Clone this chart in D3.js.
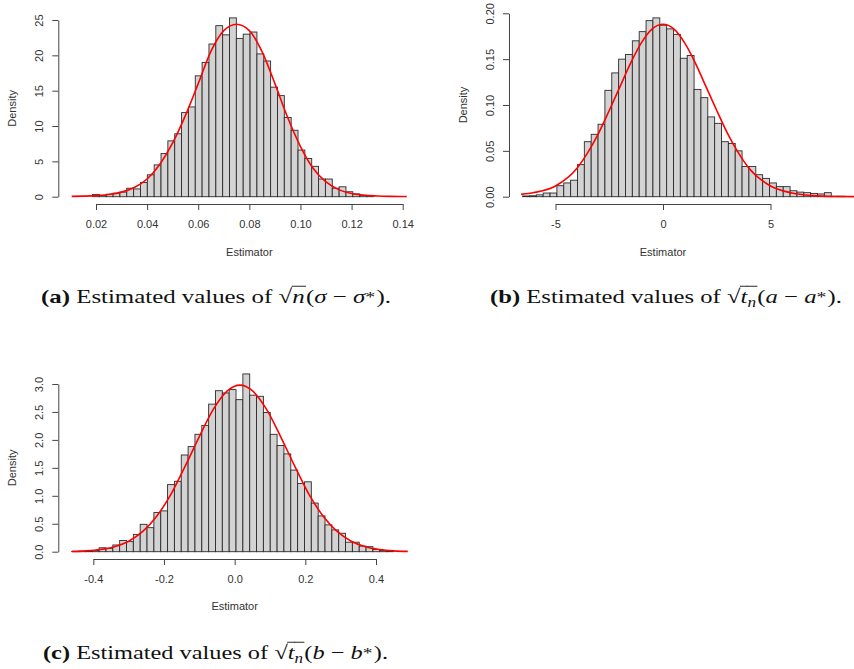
<!DOCTYPE html>
<html lang="en">
<head>
<meta charset="UTF-8">
<title>estimator histograms</title>
<style>
  body { margin: 0; background: #fff; }
  svg text { font-family: "Liberation Sans", Arial, sans-serif; }
</style>
</head>
<body>
<script src="https://d3js.org/d3.v7.min.js"></script>
<script>
// ---- data ----
// (a) sqrt(n)(sigma - sigma*)
const xTicksA = [0.02, 0.04, 0.06, 0.08, 0.10, 0.12, 0.14];
const yTicksA = [0, 5, 10, 15, 20, 25];
const binStartA = 0.01864, binWidthA = 0.00268;
const densA = [0.3, 0.2, 0.35, 0.5, 0.65, 1.2, 1.1,
  2.0, 3.1, 4.5, 6.1, 7.9, 8.9, 11.9, 12.7, 17.1, 19.0, 21.6, 24.2, 22.9, 25.3,
  22.4, 23.0, 23.3, 20.2, 19.2, 15.5, 14.3, 11.2, 9.4, 6.6, 5.4,
  4.3, 2.5, 2.5, 1.2, 1.4, 0.7, 0.4, 0.2, 0.15];
const curveXA = [0.0105, 0.015, 0.02, 0.025, 0.03, 0.035, 0.04, 0.045, 0.05, 0.055, 0.06, 0.065, 0.07, 0.075,
  0.08, 0.085, 0.09, 0.095, 0.10, 0.105, 0.11, 0.115, 0.12, 0.125, 0.13, 0.135, 0.1416];
const curveYA = [0.05, 0.08, 0.15, 0.32, 0.65, 1.3, 2.5, 4.6, 7.6, 11.5, 16.0, 20.6, 23.5, 24.4,
  23.5, 20.5, 16.0, 11.2, 7.1, 4.0, 2.1, 1.0, 0.45, 0.2, 0.1, 0.05, 0.03];

// (b) sqrt(t_n)(a - a*)
const xTicksB = [-5, 0, 5];
const yTicksB = [0, 0.05, 0.10, 0.15, 0.20];
const binStartB = -6.53, binWidthB = 0.319;
const densB = [0.0008, 0.001, 0.002, 0.004, 0.004, 0.012, 0.015, 0.018, 0.035, 0.060, 0.068, 0.079,
  0.116, 0.135, 0.150, 0.155, 0.170, 0.180, 0.192, 0.195, 0.187, 0.183, 0.177, 0.151, 0.154,
  0.117, 0.108, 0.087, 0.080, 0.060, 0.058, 0.050, 0.033, 0.033, 0.024, 0.020, 0.015, 0.011,
  0.011, 0.0065, 0.005, 0.0044, 0.0036, 0.003, 0.0044, 0.0005, 0.0005];
const curveXB = [-6.6, -6, -5, -4, -3.5, -3, -2.5, -2, -1.5, -1, -0.5, 0, 0.5, 1, 1.5, 2, 2.5, 3, 3.5, 4, 5, 6, 7, 8, 8.9];
const curveYB = [0.0025, 0.0045, 0.0117, 0.031, 0.048, 0.069, 0.094, 0.120, 0.146, 0.168, 0.183, 0.188,
  0.183, 0.168, 0.146, 0.120, 0.094, 0.069, 0.048, 0.031, 0.0117, 0.004, 0.0012, 0.0003, 0.0001];

// (c) sqrt(t_n)(b - b*)
const xTicksC = [-0.4, -0.2, 0.0, 0.2, 0.4];
const yTicksC = [0, 0.5, 1.0, 1.5, 2.0, 2.5, 3.0];
const binStartC = -0.461, binWidthC = 0.01937;
const densC = [0.005, 0.01, 0.015, 0.02, 0.07, 0.06, 0.12, 0.20, 0.18, 0.31, 0.49, 0.43, 0.70, 0.73,
  1.20, 1.26, 1.73, 1.88, 2.10, 2.26, 2.64, 2.88, 2.84, 2.90, 2.72, 3.18, 2.80, 2.78, 2.49, 2.10,
  1.90, 1.75, 1.46, 1.22, 1.25, 0.87, 0.64, 0.48, 0.39, 0.33, 0.17, 0.17, 0.10, 0.09, 0.04, 0.02, 0.01];
const curveXC = [-0.46, -0.42, -0.38, -0.34, -0.30, -0.26, -0.22, -0.18, -0.14, -0.10, -0.06, -0.02, 0.015,
  0.05, 0.09, 0.13, 0.17, 0.21, 0.25, 0.29, 0.33, 0.37, 0.41, 0.45, 0.49];
const curveYC = [0.0056, 0.015, 0.039, 0.089, 0.188, 0.363, 0.64, 1.03, 1.53, 2.06, 2.55, 2.88, 2.98,
  2.88, 2.55, 2.06, 1.53, 1.03, 0.64, 0.363, 0.188, 0.089, 0.039, 0.015, 0.0056];

const width = 854, height = 669;
const svg = d3.select('body').append('svg')
  .attr('width', width).attr('height', height);

const axisCol = '#444', textCol = '#333';

function panel(o) {
  const x = d3.scaleLinear().domain(d3.extent(o.xTicks)).range(o.xRange);
  const y = d3.scaleLinear().domain(d3.extent(o.yTicks)).range(o.yRange);
  const g = svg.append('g');

  const bins = o.dens.map((d, i) => ({x0: o.start + i * o.bw, x1: o.start + (i + 1) * o.bw, d: d}));
  g.append('g').selectAll('rect').data(bins).join('rect')
    .attr('x', d => x(d.x0))
    .attr('y', d => y(d.d))
    .attr('width', d => x(d.x1) - x(d.x0))
    .attr('height', d => y(0) - y(d.d))
    .attr('fill', '#d3d3d3')
    .attr('stroke', '#2b2b2b')
    .attr('stroke-width', 0.9);

  const pts = o.cx.map((v, i) => [v, o.cy[i]]);
  g.append('path')
    .attr('d', d3.line().x(d => x(d[0])).y(d => y(d[1])).curve(d3.curveMonotoneX)(pts))
    .attr('fill', 'none').attr('stroke', '#f00').attr('stroke-width', 1.6);

  // y axis
  const ya = g.append('g').attr('transform', `translate(${o.yAxisX},0)`)
    .call(d3.axisLeft(y).tickValues(o.yTicks).tickFormat(o.yFmt).tickSize(6).tickSizeOuter(0));
  ya.selectAll('text')
    .attr('transform', 'rotate(-90)').attr('x', 0).attr('y', -15).attr('dy', 0)
    .attr('text-anchor', 'middle');
  // x axis
  const xa = g.append('g').attr('transform', `translate(0,${o.xAxisY})`)
    .call(d3.axisBottom(x).tickValues(o.xTicks).tickFormat(o.xFmt).tickSize(6).tickSizeOuter(0));
  xa.selectAll('text').attr('y', o.xLabOff).attr('dy', 0);
  [ya, xa].forEach(a => {
    a.selectAll('path,line').attr('stroke', axisCol);
    a.selectAll('text').attr('fill', textCol).style('font-size', '11px')
      .style('font-family', '"Liberation Sans", Arial, sans-serif');
  });

  g.append('text').text('Estimator')
    .attr('x', (o.xRange[0] + o.xRange[1]) / 2).attr('y', o.titleY)
    .attr('text-anchor', 'middle').attr('fill', textCol).style('font-size', '11px');
  g.append('text').text('Density')
    .attr('transform', `translate(${o.densX},${(o.yRange[0] + o.yRange[1]) / 2}) rotate(-90)`)
    .attr('text-anchor', 'middle').attr('fill', textCol).style('font-size', '11px');
}

panel({xTicks: xTicksA, yTicks: yTicksA, start: binStartA, bw: binWidthA, dens: densA, cx: curveXA, cy: curveYA,
  xRange: [96, 402.7], yRange: [196.7, 20], yAxisX: 58.3, xAxisY: 204, xLabOff: 24, titleY: 256, densX: 16,
  xFmt: d3.format('.2f'), yFmt: d3.format('d')});
panel({xTicks: xTicksB, yTicks: yTicksB, start: binStartB, bw: binWidthB, dens: densB, cx: curveXB, cy: curveYB,
  xRange: [555.5, 770.5], yRange: [196.7, 13.3], yAxisX: 509, xAxisY: 204, xLabOff: 24, titleY: 256, densX: 467,
  xFmt: d => d3.format('d')(d).replace('−', '-'), yFmt: d3.format('.2f')});
panel({xTicks: xTicksC, yTicks: yTicksC, start: binStartC, bw: binWidthC, dens: densC, cx: curveXC, cy: curveYC,
  xRange: [93.3, 376], yRange: [551.7, 384], yAxisX: 58.3, xAxisY: 559, xLabOff: 24, titleY: 610, densX: 16,
  xFmt: d => d3.format('.1f')(d).replace('−', '-'), yFmt: d3.format('.1f')});

// ---- captions (LaTeX-like) ----
const sp = '\u00a0';
function caption(left, right, base, pieces, size) {
  const g = svg.append('g');
  let pos = 0;
  pieces.forEach(p => {
    const fs = p.sub ? size * 0.7 : p.sup ? size * 0.8 : size;
    const t = g.append('text').text(p.t)
      .attr('x', pos).attr('y', p.sub ? size * 0.22 : p.sup ? -size * 0.05 : 0)
      .attr('fill', '#111')
      .style('font-family', '"Liberation Serif", "Times New Roman", serif')
      .style('font-size', fs + 'px')
      .style('font-weight', p.b ? 'bold' : 'normal')
      .style('font-style', p.i ? 'italic' : 'normal');
    const w = t.node().getComputedTextLength() + (p.pad || 0);
    if (p.over) {
      g.append('line').attr('x1', pos - 0.5).attr('x2', pos + w)
        .attr('y1', -size * 0.86).attr('y2', -size * 0.86)
        .attr('stroke', '#111').attr('stroke-width', 0.9);
    }
    pos += w;
  });
  const sx = (right - left) / pos;
  g.attr('transform', `translate(${left},${base}) scale(${sx},1)`);
}

const capSize = 19.5;
caption(41, 391, 303, [
  {t: '(a)', b: true}, {t: sp + 'Estimated values of' + sp}, {t: '√'},
  {t: 'n', i: true, over: true, pad: 1}, {t: '('}, {t: 'σ', i: true}, {t: sp + '−' + sp}, {t: 'σ', i: true},
  {t: '*', sup: true, pad: 1}, {t: ').'}], capSize);
caption(490, 842, 303, [
  {t: '(b)', b: true}, {t: sp + 'Estimated values of' + sp}, {t: '√'},
  {t: 't', i: true, over: true}, {t: 'n', i: true, sub: true, over: true, pad: 1}, {t: '('}, {t: 'a', i: true},
  {t: sp + '−' + sp}, {t: 'a', i: true}, {t: '*', sup: true, pad: 1}, {t: ').'}], capSize);
caption(43, 388, 659, [
  {t: '(c)', b: true}, {t: sp + 'Estimated values of' + sp}, {t: '√'},
  {t: 't', i: true, over: true}, {t: 'n', i: true, sub: true, over: true, pad: 1}, {t: '('}, {t: 'b', i: true},
  {t: sp + '−' + sp}, {t: 'b', i: true}, {t: '*', sup: true, pad: 1}, {t: ').'}], capSize);
</script>
</body>
</html>
